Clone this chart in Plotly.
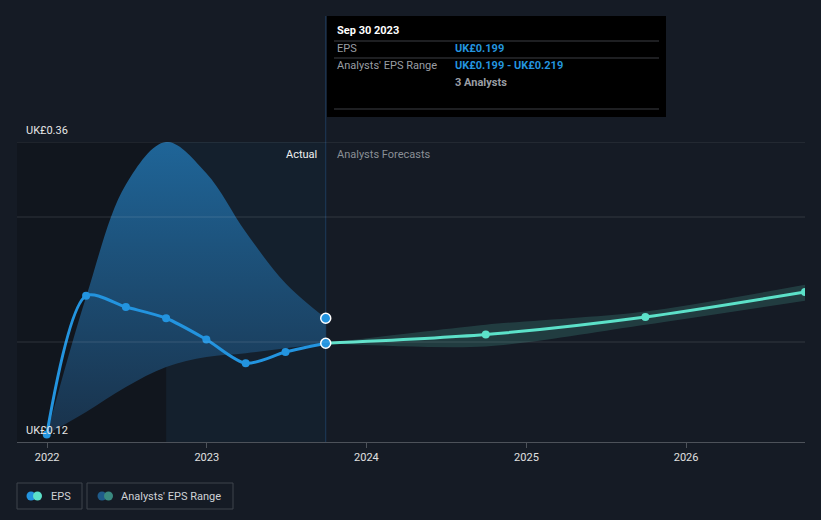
import plotly.graph_objects as go

# ---------------- data ----------------
actual_dates = ['2021-12-31', '2022-03-31', '2022-06-30', '2022-09-30',
                '2022-12-31', '2023-03-31', '2023-06-30', '2023-09-30']
actual_eps = [0.126, 0.237, 0.228, 0.219, 0.202, 0.183, 0.192, 0.199]
actual_range_low = [0.126, 0.144, 0.164, 0.180, 0.188, 0.191, 0.195, 0.199]
actual_range_high = [0.126, 0.236, 0.326, 0.360, 0.335, 0.288, 0.247, 0.219]

forecast_dates = ['2023-09-30', '2024-09-30', '2025-09-30', '2026-09-30']
forecast_eps = [0.199, 0.206, 0.220, 0.240]
forecast_low = [0.199, 0.1965, 0.2138, 0.233]
forecast_high = [0.199, 0.2138, 0.2245, 0.2458]

tick_vals = ['2022-01-01', '2023-01-01', '2024-01-01', '2025-01-01', '2026-01-01']
tick_text = ['2022', '2023', '2024', '2025', '2026']
grid_vals = [0.20, 0.30, 0.36]

# ---------------- style ----------------
BG = '#151b25'
BLUE = '#2394df'
TEAL = '#5ce1c9'
FONT = 'Roboto'

W, H = 821, 520
L, R, T, B = 17, 16, 142, 78
PW, PH = W - L - R, H - T - B


def px(x):
    return (x - L) / PW


def py(y):
    return (H - B - y) / PH


fig = go.Figure()

# actual range band
fig.add_trace(go.Scatter(x=actual_dates, y=actual_range_low, mode='lines',
                         line=dict(width=0, shape='spline', smoothing=1.0),
                         hoverinfo='skip', showlegend=False))
fig.add_trace(go.Scatter(x=actual_dates, y=actual_range_high, mode='lines',
                         line=dict(width=0, shape='spline', smoothing=1.0),
                         fill='tonexty',
                         fillgradient=dict(type='vertical',
                                           colorscale=[[0, '#19324b'], [1, '#1f6598']]),
                         hoverinfo='skip', showlegend=False))

# forecast range band
fig.add_trace(go.Scatter(x=forecast_dates, y=forecast_low, mode='lines',
                         line=dict(width=0, shape='spline', smoothing=0.8),
                         hoverinfo='skip', showlegend=False))
fig.add_trace(go.Scatter(x=forecast_dates, y=forecast_high, mode='lines',
                         line=dict(width=0, shape='spline', smoothing=0.8),
                         fill='tonexty', fillcolor='rgba(92,225,201,0.17)',
                         hoverinfo='skip', showlegend=False))

# EPS lines
fig.add_trace(go.Scatter(x=actual_dates, y=actual_eps, mode='lines+markers',
                         line=dict(color=BLUE, width=3, shape='spline', smoothing=0.8),
                         marker=dict(size=8, color=BLUE),
                         showlegend=False))
fig.add_trace(go.Scatter(x=forecast_dates, y=forecast_eps, mode='lines+markers',
                         line=dict(color=TEAL, width=3, shape='spline', smoothing=0.8),
                         marker=dict(size=8, color=TEAL),
                         showlegend=False))

# highlighted points at the current date
fig.add_trace(go.Scatter(x=[actual_dates[-1], actual_dates[-1]],
                         y=[actual_eps[-1], actual_range_high[-1]],
                         mode='markers',
                         marker=dict(size=10, color=BLUE, line=dict(color='white', width=1.5)),
                         showlegend=False))

shapes = []
# darker region before last year, highlighted last actual year
shapes.append(dict(type='rect', xref='paper', yref='paper', x0=0, x1=px(167), y0=0, y1=1,
                   fillcolor='#11161e', line=dict(width=0), layer='below'))
shapes.append(dict(type='rect', xref='x', yref='paper', x0='2022-09-30', x1='2023-09-30',
                   y0=0, y1=1, fillcolor='#14202d', line=dict(width=0), layer='below'))
# gridlines
for g in grid_vals:
    shapes.append(dict(type='line', xref='paper', yref='y', x0=0, x1=1, y0=g, y1=g,
                       line=dict(color='rgba(255,255,255,0.13)', width=1), layer='above'))
# vertical line at current date
shapes.append(dict(type='line', xref='x', yref='paper', x0='2023-09-30', x1='2023-09-30',
                   y0=0, y1=py(16), line=dict(color='rgba(40,95,150,0.45)', width=1),
                   layer='below'))
# tooltip box
shapes.append(dict(type='rect', xref='paper', yref='paper', x0=px(327), x1=px(666),
                   y0=py(117), y1=py(16), fillcolor='#000000', line=dict(width=0), layer='above'))
for yy in [41, 58, 109]:
    shapes.append(dict(type='line', xref='paper', yref='paper', x0=px(334), x1=px(659),
                       y0=py(yy), y1=py(yy), line=dict(color='#3c3f44', width=1), layer='above'))
# legend boxes
for x0, x1 in [(17, 82), (87, 233)]:
    shapes.append(dict(type='rect', xref='paper', yref='paper', x0=px(x0), x1=px(x1),
                       y0=py(509), y1=py(483), fillcolor='rgba(0,0,0,0)',
                       line=dict(color='#3f444c', width=1), layer='above'))
# legend icons
for cx, col in [(31, BLUE), (37.5, TEAL), (102, '#1f5b8a'), (108.5, '#3a8a80')]:
    shapes.append(dict(type='circle', xref='paper', yref='paper',
                       x0=px(cx - 4.5), x1=px(cx + 4.5), y0=py(500.5), y1=py(491.5),
                       fillcolor=col, line=dict(width=0), layer='above'))

ann = []


def text(x, y, s, color, size=11, anchor='left', bold=False):
    ann.append(dict(xref='paper', yref='paper', x=px(x), y=py(y), text=('<b>%s</b>' % s) if bold else s,
                    showarrow=False, xanchor=anchor, yanchor='middle',
                    font=dict(family=FONT, size=size, color=color)))


text(24, 130, 'UK£0.36', '#e6e6e6')
text(24, 430, 'UK£0.12', '#e6e6e6')
text(319, 154, 'Actual', '#f0f0f0')
ann[-1]['xanchor'] = 'right'
text(335, 154, 'Analysts Forecasts', '#8a8f96')

text(335, 31, 'Sep 30 2023', '#ffffff', size=11, bold=True)
text(335, 49, 'EPS', '#9a9ea4')
text(453, 49, 'UK£0.199', BLUE, bold=True)
text(335, 66, "Analysts' EPS Range", '#9a9ea4')
text(453, 66, 'UK£0.199 - UK£0.219', BLUE, bold=True)
text(453, 83, '3 Analysts', '#9a9ea4', bold=True)

text(49, 496.5, 'EPS', '#cfd2d6', size=11)
text(119, 496.5, "Analysts' EPS Range", '#cfd2d6', size=11)

fig.update_layout(
    width=W, height=H,
    margin=dict(l=L, r=R, t=T, b=B, pad=0),
    paper_bgcolor=BG, plot_bgcolor=BG,
    showlegend=False,
    shapes=shapes, annotations=ann,
    hovermode=False,
    xaxis=dict(type='date', range=['2021-10-24', '2026-09-30'],
               tickvals=tick_vals, ticktext=tick_text,
               showgrid=False, zeroline=False,
               showline=True, linecolor='#4d525a', linewidth=1,
               ticks='outside', ticklen=5, tickcolor='#4d525a',
               tickfont=dict(family=FONT, size=11, color='#e0e0e0')),
    yaxis=dict(range=[0.12, 0.36], showgrid=False, zeroline=False,
               showticklabels=False, showline=False, fixedrange=True),
)

fig.write_html('out.html')
